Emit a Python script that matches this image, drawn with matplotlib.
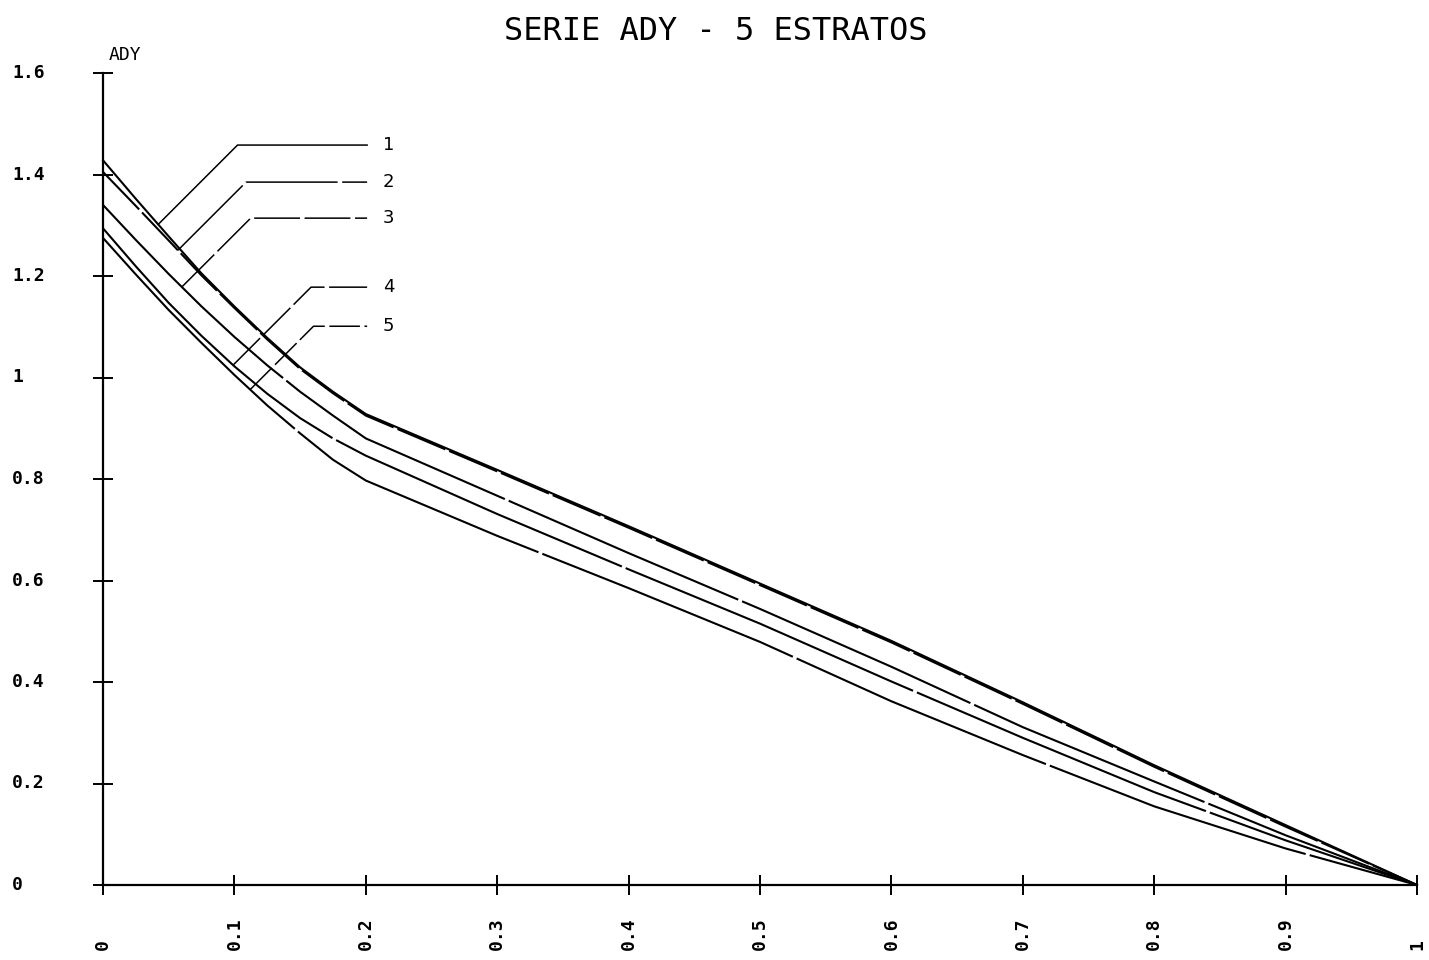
import numpy as np
import matplotlib
matplotlib.use("Agg")
import matplotlib.pyplot as plt

# ---- data ----
x = [0, 0.025, 0.05, 0.075, 0.1, 0.125, 0.15, 0.175, 0.2, 0.3, 0.4, 0.5, 0.6, 0.7, 0.8, 0.9, 1.0]
curve1 = [1.428, 1.352, 1.278, 1.205, 1.140, 1.078, 1.020, 0.972, 0.928, 0.818, 0.707, 0.594, 0.481, 0.360, 0.236, 0.118, 0.0]
curve2 = [1.405, 1.338, 1.270, 1.201, 1.137, 1.075, 1.017, 0.969, 0.925, 0.815, 0.704, 0.591, 0.478, 0.357, 0.233, 0.115, 0.0]
curve3 = [1.340, 1.271, 1.204, 1.140, 1.080, 1.024, 0.972, 0.925, 0.880, 0.767, 0.654, 0.544, 0.430, 0.311, 0.204, 0.098, 0.0]
curve4 = [1.294, 1.219, 1.147, 1.082, 1.022, 0.968, 0.920, 0.880, 0.846, 0.731, 0.622, 0.515, 0.401, 0.290, 0.183, 0.088, 0.0]
curve5 = [1.275, 1.203, 1.133, 1.068, 1.005, 0.945, 0.890, 0.838, 0.797, 0.688, 0.585, 0.479, 0.362, 0.256, 0.155, 0.072, 0.0]
series = [curve1, curve2, curve3, curve4, curve5]
series_names = ["1", "2", "3", "4", "5"]

xticks = [0, 0.1, 0.2, 0.3, 0.4, 0.5, 0.6, 0.7, 0.8, 0.9, 1.0]
xtick_labels = ["0", "0.1", "0.2", "0.3", "0.4", "0.5", "0.6", "0.7", "0.8", "0.9", "1"]
yticks = [0, 0.2, 0.4, 0.6, 0.8, 1.0, 1.2, 1.4, 1.6]
ytick_labels = ["0", "0.2", "0.4", "0.6", "0.8", "1", "1.2", "1.4", "1.6"]

title = "SERIE ADY - 5 ESTRATOS"
ylabel = "ADY"

# ---- layout / style ----
leader_start_x = [0.042, 0.057, 0.060, 0.099, 0.112]
leader_kink_y = [1.458, 1.385, 1.314, 1.178, 1.101]
leader_end_x = 0.201
label_x = 0.213
line_styles = ["-", (0, (25, 2)), (0, (120, 2)), (0, (150, 2)), (0, (130, 2))]
leader_styles = ["-", (0, (60, 3)), (0, (30, 3)), (0, (25, 3)), (0, (20, 3))]

W, H = 1429, 960
fig = plt.figure(figsize=(W / 100, H / 100), dpi=100)
x0, x1 = 103, 1417
y0, y1 = 885, 73
ax = fig.add_axes([x0 / W, 1 - y0 / H, (x1 - x0) / W, (y0 - y1) / H])
ax.set_xlim(0, 1)
ax.set_ylim(0, 1.6)

for s, ls in zip(series, line_styles):
    ax.plot(x, s, color="black", lw=1.5, linestyle=ls, clip_on=False,
            solid_joinstyle="round")

for sp in ["top", "right"]:
    ax.spines[sp].set_visible(False)
for sp in ["left", "bottom"]:
    ax.spines[sp].set_linewidth(1.6)
    ax.spines[sp].set_color("black")

ax.set_xticks(xticks)
ax.set_yticks(yticks)
ax.set_xticklabels([])
ax.set_yticklabels([])
ax.tick_params(axis="both", direction="inout", length=15, width=1.4, color="black")

mono = "DejaVu Sans Mono"
ytr = ax.get_yaxis_transform()
for v, lab in zip(yticks, ytick_labels):
    ax.text((12 - x0) / (x1 - x0), v, lab, transform=ytr, ha="left", va="center",
            family=mono, fontsize=13, fontweight="bold")

xtr = ax.get_xaxis_transform()
for v, lab in zip(xticks, xtick_labels):
    ax.text(v, -(950 - y0) / (y0 - y1), lab, transform=xtr, rotation=90,
            rotation_mode="anchor", ha="left", va="center",
            family=mono, fontsize=13, fontweight="bold")

ax.text(0.004, 1 + (y1 - 55) / (y0 - y1), ylabel, transform=ax.transAxes,
        ha="left", va="center", family=mono, fontsize=13)

fig.text(0.501, 1 - 32 / H, title, ha="center", va="center", family=mono, fontsize=23)

# leader lines with labels (45 degree in screen space)
px_ratio = (1.6 / (y0 - y1)) / (1.0 / (x1 - x0))
for s, name, sx, ky, ls in zip(series, series_names, leader_start_x, leader_kink_y, leader_styles):
    sy = float(np.interp(sx, x, s))
    kx = sx + (ky - sy) / px_ratio
    ax.plot([sx, kx, leader_end_x], [sy, ky, ky], color="black", lw=1.1,
            linestyle=ls, clip_on=False)
    ax.text(label_x, ky, name, ha="left", va="center", fontsize=13, family="DejaVu Sans")

fig.savefig("out.png", dpi=100, facecolor="white")
